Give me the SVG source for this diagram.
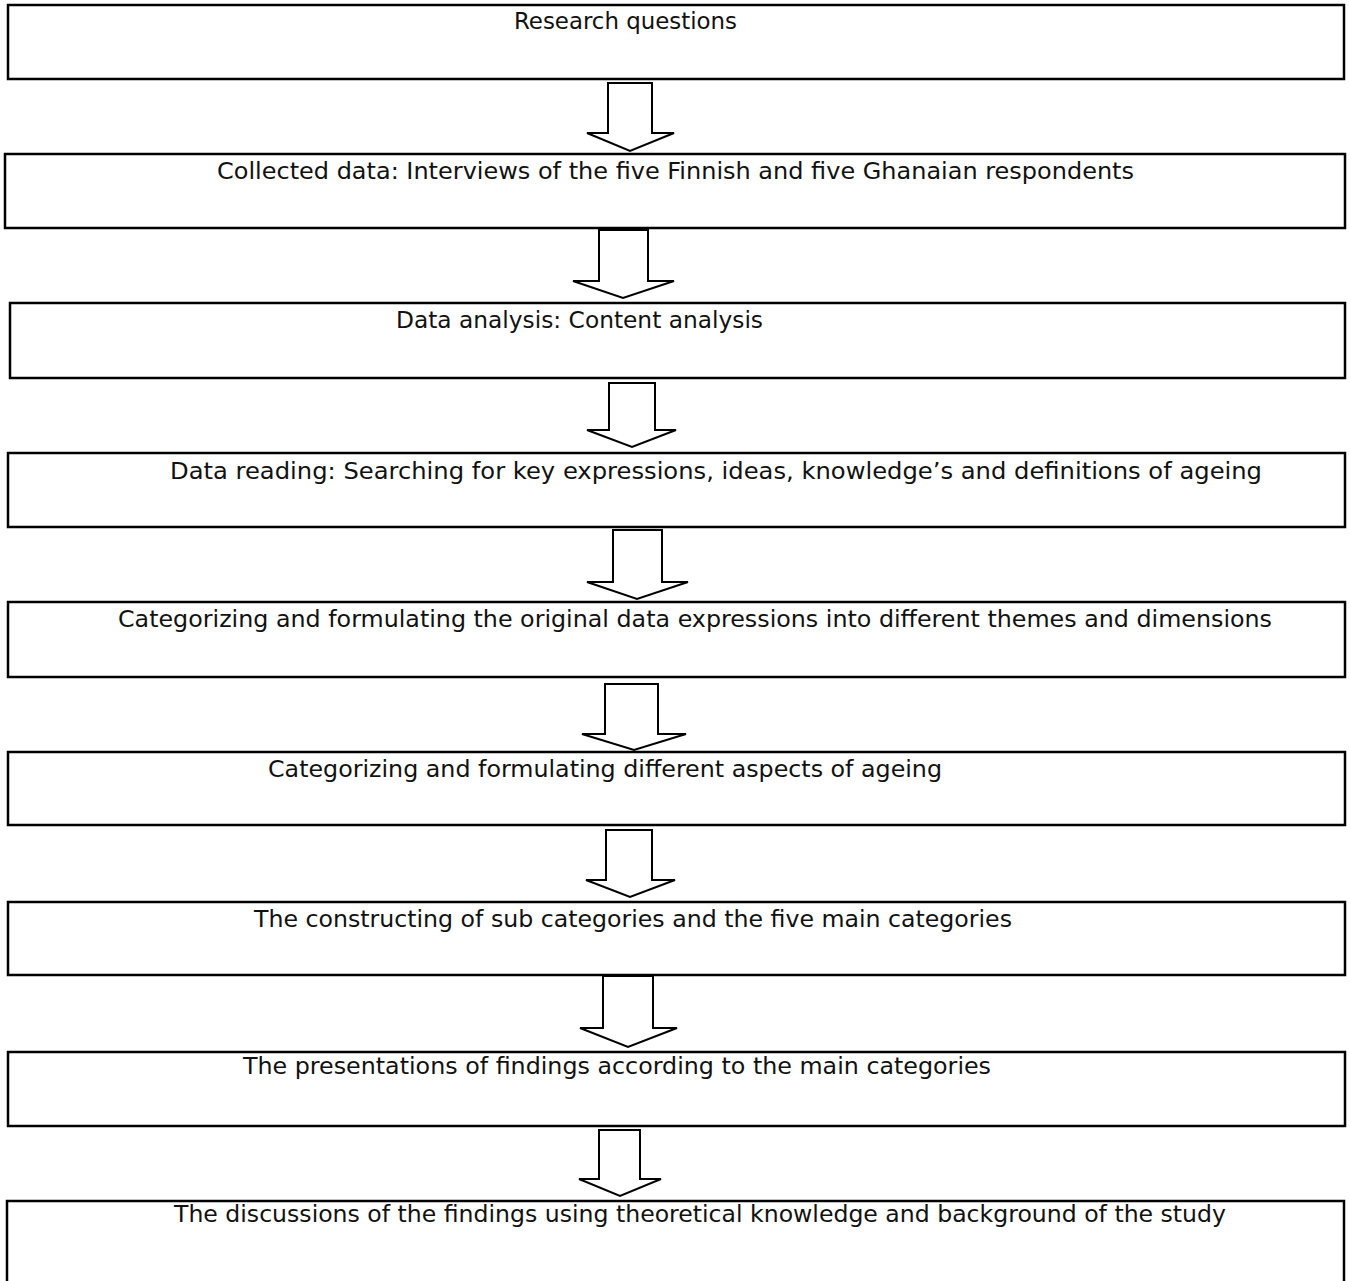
<svg xmlns="http://www.w3.org/2000/svg" width="1350" height="1281" viewBox="0 0 1350 1281">
<style>
.box{fill:#fff;stroke:#000;stroke-width:2.5}
.arr{fill:#fff;stroke:#000;stroke-width:2;stroke-linejoin:miter}
.t{font-family:"DejaVu Sans","Liberation Sans",sans-serif;font-size:23px;fill:#111}
</style>
<rect width="1350" height="1281" fill="#fff"/>
<g id="connectors">
<polygon class="arr" points="608,83 608,133 587,133 630,151 674,133 652,133 652,83"/>
<polygon class="arr" points="599,230 599,281 573,281 623,298 674,281 648,281 648,230"/>
<polygon class="arr" points="609,383 609,430 587,430 632,447 676,430 655,430 655,383"/>
<polygon class="arr" points="613,530 613,582 587,582 637,599 688,582 662,582 662,530"/>
<polygon class="arr" points="605,684 605,734 582,734 634,750 686,734 658,734 658,684"/>
<polygon class="arr" points="606,830 606,880 586,880 630,897 675,880 652,880 652,830"/>
<polygon class="arr" points="603,976 603,1028 580,1028 628,1047 677,1028 653,1028 653,976"/>
<polygon class="arr" points="599,1130 599,1179 579,1179 620,1196 661,1179 640,1179 640,1130"/>
</g>
<g id="n1"><rect class="box" x="8" y="5" width="1336" height="74"/><text class="t" x="514" y="29" textLength="223" lengthAdjust="spacingAndGlyphs">Research questions</text></g>
<g id="n2"><rect class="box" x="5" y="154" width="1340" height="74"/><text class="t" x="217" y="179" textLength="917" lengthAdjust="spacingAndGlyphs">Collected data: Interviews of the five Finnish and five Ghanaian respondents</text></g>
<g id="n3"><rect class="box" x="10" y="303" width="1335" height="75"/><text class="t" x="396" y="328" textLength="367" lengthAdjust="spacingAndGlyphs">Data analysis: Content analysis</text></g>
<g id="n4"><rect class="box" x="8" y="453" width="1337" height="74"/><text class="t" x="170" y="479" textLength="1092" lengthAdjust="spacingAndGlyphs">Data reading: Searching for key expressions, ideas, knowledge’s and definitions of ageing</text></g>
<g id="n5"><rect class="box" x="8" y="602" width="1337" height="75"/><text class="t" x="118" y="627" textLength="1154" lengthAdjust="spacingAndGlyphs">Categorizing and formulating the original data expressions into different themes and dimensions</text></g>
<g id="n6"><rect class="box" x="8" y="752" width="1337" height="73"/><text class="t" x="268" y="777" textLength="674" lengthAdjust="spacingAndGlyphs">Categorizing and formulating different aspects of ageing</text></g>
<g id="n7"><rect class="box" x="8" y="902" width="1337" height="73"/><text class="t" x="254" y="927" textLength="758" lengthAdjust="spacingAndGlyphs">The constructing of sub categories and the five main categories</text></g>
<g id="n8"><rect class="box" x="8" y="1052" width="1337" height="74"/><text class="t" x="243" y="1074" textLength="748" lengthAdjust="spacingAndGlyphs">The presentations of findings according to the main categories</text></g>
<g id="n9"><rect class="box" x="7" y="1201" width="1337" height="100"/><text class="t" x="174" y="1222" textLength="1052" lengthAdjust="spacingAndGlyphs">The discussions of the findings using theoretical knowledge and background of the study</text></g>
</svg>
